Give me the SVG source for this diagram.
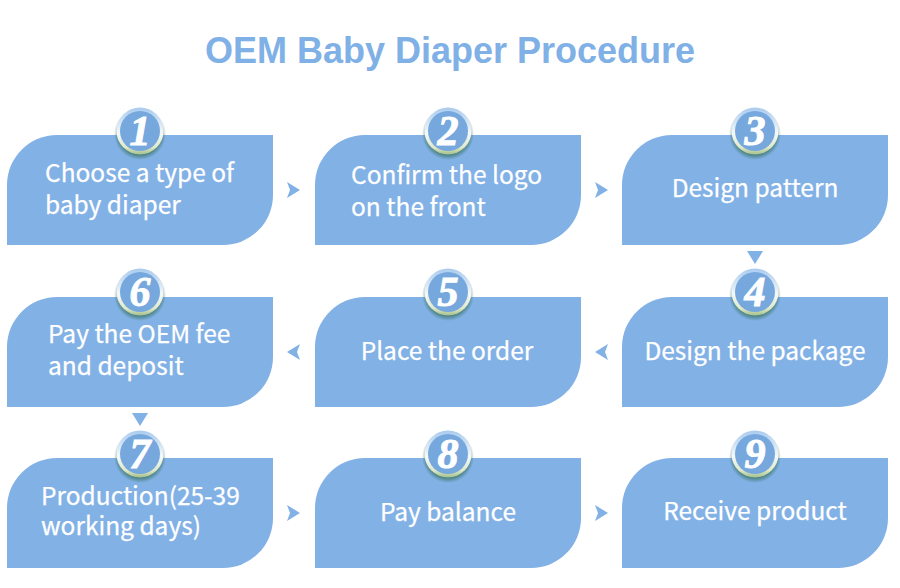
<svg xmlns="http://www.w3.org/2000/svg" width="900" height="588" viewBox="0 0 900 588">
<style>
.card{fill:#82b1e6}
.t{font-family:"Noto Sans CJK SC","Noto Sans",sans-serif;font-size:24.5px;fill:#fff;stroke:#fff;stroke-width:.25px}
.m{text-anchor:middle}
.n{font-family:"Liberation Serif",serif;font-weight:bold;font-style:italic;font-size:42px;fill:#fff;stroke:#fff;stroke-width:1px;text-anchor:middle}
.title{font-family:"Liberation Sans",Arial,sans-serif;font-weight:bold;font-size:36px;fill:#7fb0e6;text-anchor:middle}
.arr{fill:#82b1e6}
</style>
<defs>
<path id="c" class="card" d="M0 110V50A50 50 0 0 1 50 0H266V60A50 50 0 0 1 216 110Z"/>
<linearGradient id="ring" x1="0" y1="0" x2="0" y2="1">
<stop offset="0" stop-color="#a9cbee"/><stop offset=".55" stop-color="#f4f8fb"/><stop offset=".85" stop-color="#dfe8c8"/><stop offset="1" stop-color="#a4bf8a"/>
</linearGradient>
<radialGradient id="sh" cx=".5" cy=".5" r=".5">
<stop offset=".8" stop-color="#2f6a50" stop-opacity=".65"/><stop offset="1" stop-color="#2f6a50" stop-opacity="0"/>
</radialGradient>
<g id="b">
<circle cx="0" cy="3" r="26" fill="url(#sh)"/>
<circle r="23.5" fill="url(#ring)"/>
<circle r="20" fill="#76a8de"/>
</g>
</defs>
<text class="title" x="450" y="63">OEM Baby Diaper Procedure</text>
<g id="connectors">
<path class="arr" d="M287 182L300 190L287 198L290 190Z"/>
<path class="arr" d="M595 182L608 190L595 198L598 190Z"/>
<path class="arr" d="M747 251H763L755 264Z"/>
<path class="arr" d="M608 344L595 352L608 360L605 352Z"/>
<path class="arr" d="M300 344L287 352L300 360L297 352Z"/>
<path class="arr" d="M132 413H148L140 426Z"/>
<path class="arr" d="M287 505L300 513L287 521L290 513Z"/>
<path class="arr" d="M595 505L608 513L595 521L598 513Z"/>
</g>
<g id="node1"><use href="#c" x="7" y="135"/><use href="#b" x="140" y="131"/><text class="n" x="140" y="145">1</text><text class="t" x="45" y="182">Choose a type of</text><text class="t" x="45" y="214">baby diaper</text></g>
<g id="node2"><use href="#c" x="315" y="135"/><use href="#b" x="448" y="131"/><text class="n" x="448" y="145">2</text><text class="t" x="351" y="184">Confirm the logo</text><text class="t" x="351" y="216">on the front</text></g>
<g id="node3"><use href="#c" x="622" y="135"/><use href="#b" x="755" y="131"/><text class="n" x="755" y="145">3</text><text class="t m" x="755" y="197">Design pattern</text></g>
<g id="node4"><use href="#c" x="622" y="297"/><use href="#b" x="755" y="292"/><text class="n" x="755" y="306">4</text><text class="t m" x="755" y="360">Design the package</text></g>
<g id="node5"><use href="#c" x="315" y="297"/><use href="#b" x="448" y="292"/><text class="n" x="448" y="306">5</text><text class="t m" x="447" y="360">Place the order</text></g>
<g id="node6"><use href="#c" x="7" y="297"/><use href="#b" x="140" y="292"/><text class="n" x="140" y="306">6</text><text class="t" x="48" y="343">Pay the OEM fee</text><text class="t" x="48" y="375">and deposit</text></g>
<g id="node7"><use href="#c" x="7" y="458"/><use href="#b" x="140" y="454"/><text class="n" x="140" y="468">7</text><text class="t" x="41" y="505">Production(25-39</text><text class="t" x="41" y="535">working days)</text></g>
<g id="node8"><use href="#c" x="315" y="458"/><use href="#b" x="448" y="454"/><text class="n" x="448" y="468">8</text><text class="t m" x="448" y="521">Pay balance</text></g>
<g id="node9"><use href="#c" x="622" y="458"/><use href="#b" x="755" y="454"/><text class="n" x="755" y="468">9</text><text class="t m" x="755" y="520">Receive product</text></g>
</svg>
